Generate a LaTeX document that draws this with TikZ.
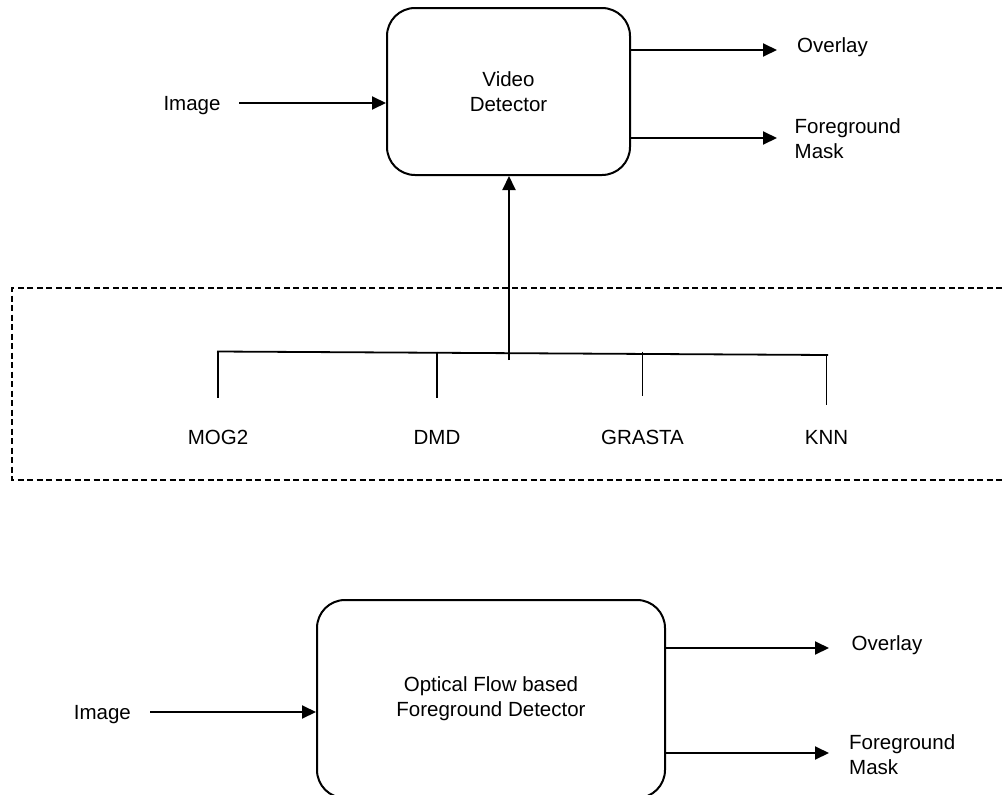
\documentclass[tikz,border=0pt]{standalone}
\usepackage{fontspec}
\setmainfont{Liberation Sans}
\usetikzlibrary{arrows.meta}
\begin{document}
\begin{tikzpicture}[x=1pt,y=-1pt,
  txt/.style={font=\fontsize{20.5}{25}\selectfont, inner sep=0pt},
  blk/.style={draw, line width=2pt, rounded corners=28pt, font=\fontsize{20.5}{25}\selectfont, align=center, inner sep=0pt},
  arr/.style={line width=2pt, -{Triangle[length=14pt,width=13pt]}},
  busline/.style={line width=1.8pt},
  tickline/.style={line width=1.1pt},
  grp/.style={line width=1.2pt, dash pattern=on 6pt off 3.5pt}]
\path[use as bounding box, fill=white] (0,0) rectangle (1002,795);
\clip (0,0) rectangle (1002,795);

% top detector
\node[blk, minimum width=243pt, minimum height=167pt] (vd) at (508.5,91.5) {Video\\Detector};
\node[txt, anchor=base] (img1) at (192,110.7) {Image};
\node[txt, anchor=base] (ov1) at (832.5,52.7) {Overlay};
\node[txt, anchor=west, align=left] (fm1) at (794.5,139) {Foreground\\Mask};

\coordinate (s1) at (239,103);
\coordinate (t1) at (777,50);
\coordinate (t2) at (777,138);
\draw[arr] (s1) -- (s1 -| vd.west);
\draw[arr] (t1 -| vd.east) -- (t1);
\draw[arr] (t2 -| vd.east) -- (t2);

% group of background subtractors
\draw[grp] (1002,288) -- (12,288) -- (12,480) -- (1002,480);
\node[txt, anchor=base] (mog) at (218,444) {MOG2};
\node[txt, anchor=base] (dmd) at (437,444) {DMD};
\node[txt, anchor=base] (gra) at (642.5,444) {GRASTA};
\node[txt, anchor=base] (knn) at (826.5,444) {KNN};

\coordinate (bl) at (217,351.5);
\coordinate (br) at (828,355);
\draw[busline] (bl) -- (br);
\draw[tickline] (mog.north |- bl) -- ++(0,46.5);
\draw[tickline] (dmd.north |- bl) -- ++(0,46);
\draw[tickline] (gra.north |- bl) -- ++(0,44.5);
\draw[tickline] (knn.north |- br) -- ++(0,50);

\coordinate (u) at (509,360);
\draw[arr] (u) -- (u |- vd.south);

% bottom detector
\node[blk, minimum width=348pt, minimum height=198pt] (ofd) at (491,699) {Optical Flow based\\Foreground Detector};
\node[txt, anchor=base] (img2) at (102.4,719.3) {Image};
\node[txt, anchor=base] (ov2) at (887,650) {Overlay};
\node[txt, anchor=west, align=left] (fm2) at (849,755) {Foreground\\Mask};

\coordinate (s2) at (150,712);
\coordinate (t3) at (829,648);
\coordinate (t4) at (829,753);
\draw[arr] (s2) -- (s2 -| ofd.west);
\draw[arr] (t3 -| ofd.east) -- (t3);
\draw[arr] (t4 -| ofd.east) -- (t4);
\end{tikzpicture}
\end{document}
